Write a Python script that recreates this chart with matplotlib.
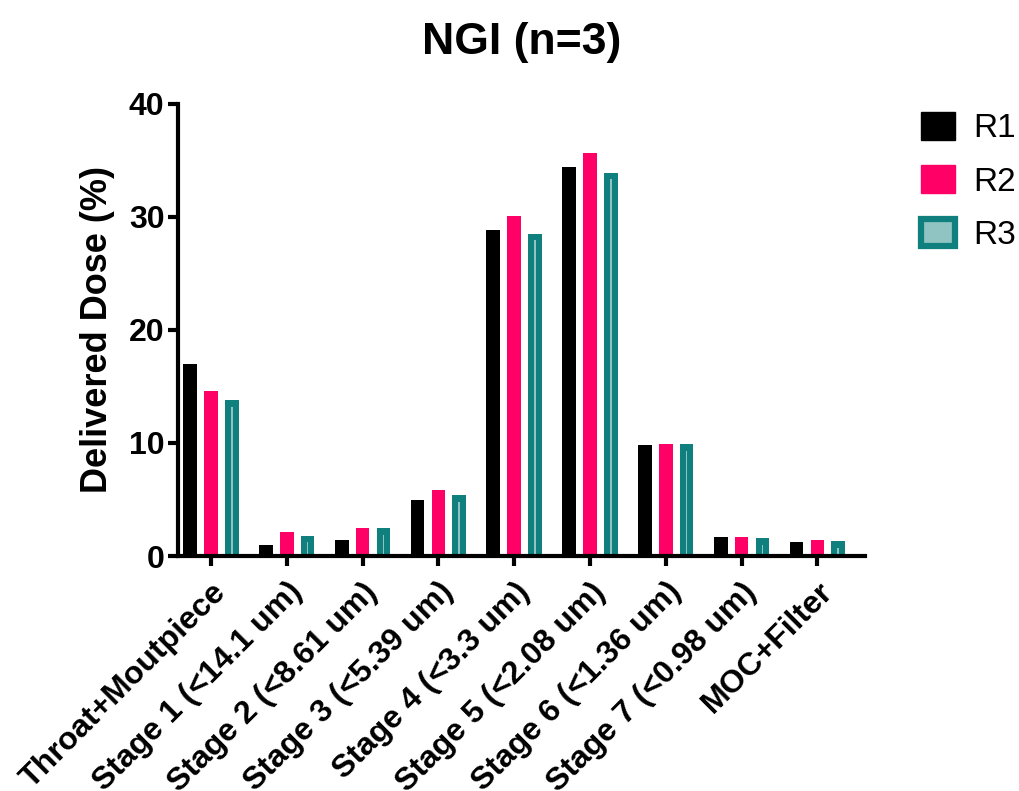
import numpy as np
import matplotlib.pyplot as plt
from matplotlib.patches import Patch

plt.rcParams['font.family'] = ['Liberation Sans', 'DejaVu Sans']

# data
stages = ['Throat+Moutpiece', 'Stage 1 (<14.1 um)', 'Stage 2 (<8.61 um)',
          'Stage 3 (<5.39 um)', 'Stage 4 (<3.3 um)', 'Stage 5 (<2.08 um)',
          'Stage 6 (<1.36 um)', 'Stage 7 (<0.98 um)', 'MOC+Filter']
r1 = [17.0, 1.0, 1.4, 5.0, 28.8, 34.4, 9.8, 1.7, 1.25]
r2 = [14.6, 2.1, 2.5, 5.8, 30.1, 35.6, 9.9, 1.7, 1.4]
r3 = [13.8, 1.8, 2.5, 5.4, 28.5, 33.9, 9.9, 1.6, 1.35]
series = ['R1', 'R2', 'R3']

pink = '#ff0066'
teal = '#10807e'
teal_light = '#8fc4c2'

fig = plt.figure(figsize=(10.19, 7.91), dpi=100)
ax = fig.add_axes([0.175, 0.297, 0.674, 0.572])

x = np.arange(len(stages))
w = 0.18
off = 0.275
ax.bar(x - off, r1, w, color='black')
ax.bar(x, r2, w, color=pink)
ax.bar(x + off, r3, w, color=teal)
# thin light core of the R3 bars
ax.bar(x + off, np.array(r3) - 0.6, 0.02, color=teal_light)

ax.set_xlim(-0.43, 8.63)
ax.set_ylim(0, 40)
ax.set_yticks([0, 10, 20, 30, 40])
ax.set_xticks(x)
ax.set_xticklabels(stages, rotation=45, ha='right', rotation_mode='anchor',
                   fontsize=23, fontweight='bold')
for t in ax.get_yticklabels():
    t.set_fontsize(23)
    t.set_fontweight('bold')
ax.tick_params(axis='both', width=3, length=7, direction='out')
ax.tick_params(axis='x', pad=8)
ax.tick_params(axis='y', pad=3)
for s in ['top', 'right']:
    ax.spines[s].set_visible(False)
for s in ['left', 'bottom']:
    ax.spines[s].set_linewidth(3)

ax.set_ylabel('Delivered Dose (%)', fontsize=26, fontweight='bold', labelpad=10)
ax.set_title('NGI (n=3)', fontsize=32, fontweight='bold', pad=36)

handles = [Patch(facecolor='black', edgecolor='black'),
           Patch(facecolor=pink, edgecolor=pink),
           Patch(facecolor=teal_light, edgecolor=teal, linewidth=4.5)]
fig.legend(handles, series, loc='upper left', bbox_to_anchor=(0.904, 0.858),
           frameon=False, fontsize=24, handlelength=1.0, handleheight=0.88,
           labelspacing=0.63, handletextpad=0.55, borderpad=0, borderaxespad=0)

fig.savefig('out.png', dpi=100)
